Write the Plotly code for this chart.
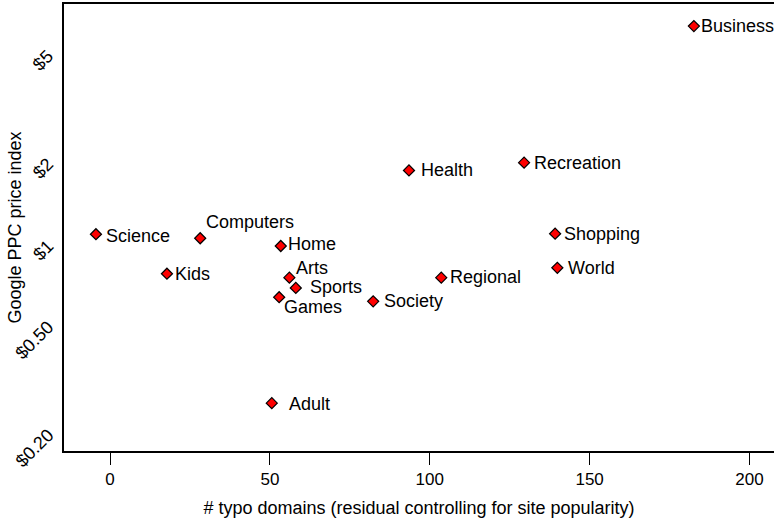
import math
import plotly.graph_objects as go

# ---- data ----
categories = ["Business", "Health", "Recreation", "Science", "Computers", "Home",
              "Shopping", "World", "Kids", "Arts", "Regional", "Sports", "Games",
              "Society", "Adult"]
typo_domains = [182.6, 93.5, 129.5, -4.4, 28.2, 53.4,
                139.2, 139.9, 17.8, 56.1, 103.6, 58.1, 52.9,
                82.3, 50.6]
ppc_price = [6.48, 1.90, 2.03, 1.105, 1.068, 1.00,
             1.11, 0.831, 0.790, 0.764, 0.764, 0.700, 0.647,
             0.625, 0.263]
y_tick_vals = [0.2, 0.5, 1, 2, 5]
y_tick_text = ["$0.20", "$0.50", "$1", "$2", "$5"]
x_tick_vals = [0, 50, 100, 150, 200]

# label placement (pixel offsets from marker: right, down)
label_offsets = {
    "Business": (5, 0), "Health": (10, 0), "Recreation": (8, 0),
    "Science": (8, 2), "Computers": (4, -16), "Home": (5, -2),
    "Shopping": (7, 0), "World": (9, 0), "Kids": (6, 0),
    "Arts": (5, -10), "Regional": (7, -1), "Sports": (12, -1),
    "Games": (3, 10), "Society": (9, 0), "Adult": (15, 1),
}

FONT = "Liberation Sans, Arial, sans-serif"
TICK_SIZE = 18


def text_width(s, size):
    widths = {".": 278}
    return sum(widths.get(ch, 556) for ch in s) * size / 1000.0


fig = go.Figure()
fig.add_trace(go.Scatter(
    x=typo_domains, y=ppc_price, mode="markers",
    marker=dict(symbol="diamond", size=8.5, color="#ff0000",
                line=dict(color="black", width=1.2)),
    hoverinfo="text", text=categories, showlegend=False,
))

for name, xv, yv in zip(categories, typo_domains, ppc_price):
    dx, dy = label_offsets[name]
    fig.add_annotation(x=xv, y=math.log10(yv), text=name, showarrow=False,
                       xanchor="left", yanchor="middle", xshift=dx, yshift=-dy,
                       font=dict(family=FONT, size=18, color="black"))

# rotated y tick labels, right end of each label at its tick
for tv, tt in zip(y_tick_vals, y_tick_text):
    half = text_width(tt, TICK_SIZE) / (2 * math.sqrt(2))
    fig.add_annotation(xref="paper", x=0, y=math.log10(tv), text=tt, showarrow=False,
                       textangle=-45, xanchor="center", yanchor="middle",
                       xshift=-13.5 - half, yshift=3.4 - half, borderpad=0,
                       font=dict(family=FONT, size=TICK_SIZE, color="black"))

fig.update_layout(
    width=774, height=519,
    margin=dict(l=64, r=0, t=4, b=68),
    paper_bgcolor="white", plot_bgcolor="white",
    font=dict(family=FONT, color="black"),
    xaxis=dict(
        range=[-14.39, 207.66], tickvals=x_tick_vals, automargin=False,
        ticks="outside", ticklen=12, tickwidth=1, tickcolor="black",
        showline=True, linecolor="black", linewidth=1.5, mirror=True,
        showgrid=False, zeroline=False,
        tickfont=dict(family=FONT, size=17, color="black"),
        title=dict(text="# typo domains (residual controlling for site popularity)",
                   font=dict(family=FONT, size=18, color="black"), standoff=13),
    ),
    yaxis=dict(
        type="log", range=[-0.7565, 0.893], automargin=False,
        tickvals=y_tick_vals, showticklabels=False, ticks="",
        showline=True, linecolor="black", linewidth=1.5, mirror=False,
        showgrid=False, zeroline=False,
        title=dict(text="Google PPC price index",
                   font=dict(family=FONT, size=18, color="black"), standoff=36),
    ),
)

fig.write_html("out.html", config={"displayModeBar": False},
               post_script="document.body.style.margin='0';document.body.style.padding='0';")
